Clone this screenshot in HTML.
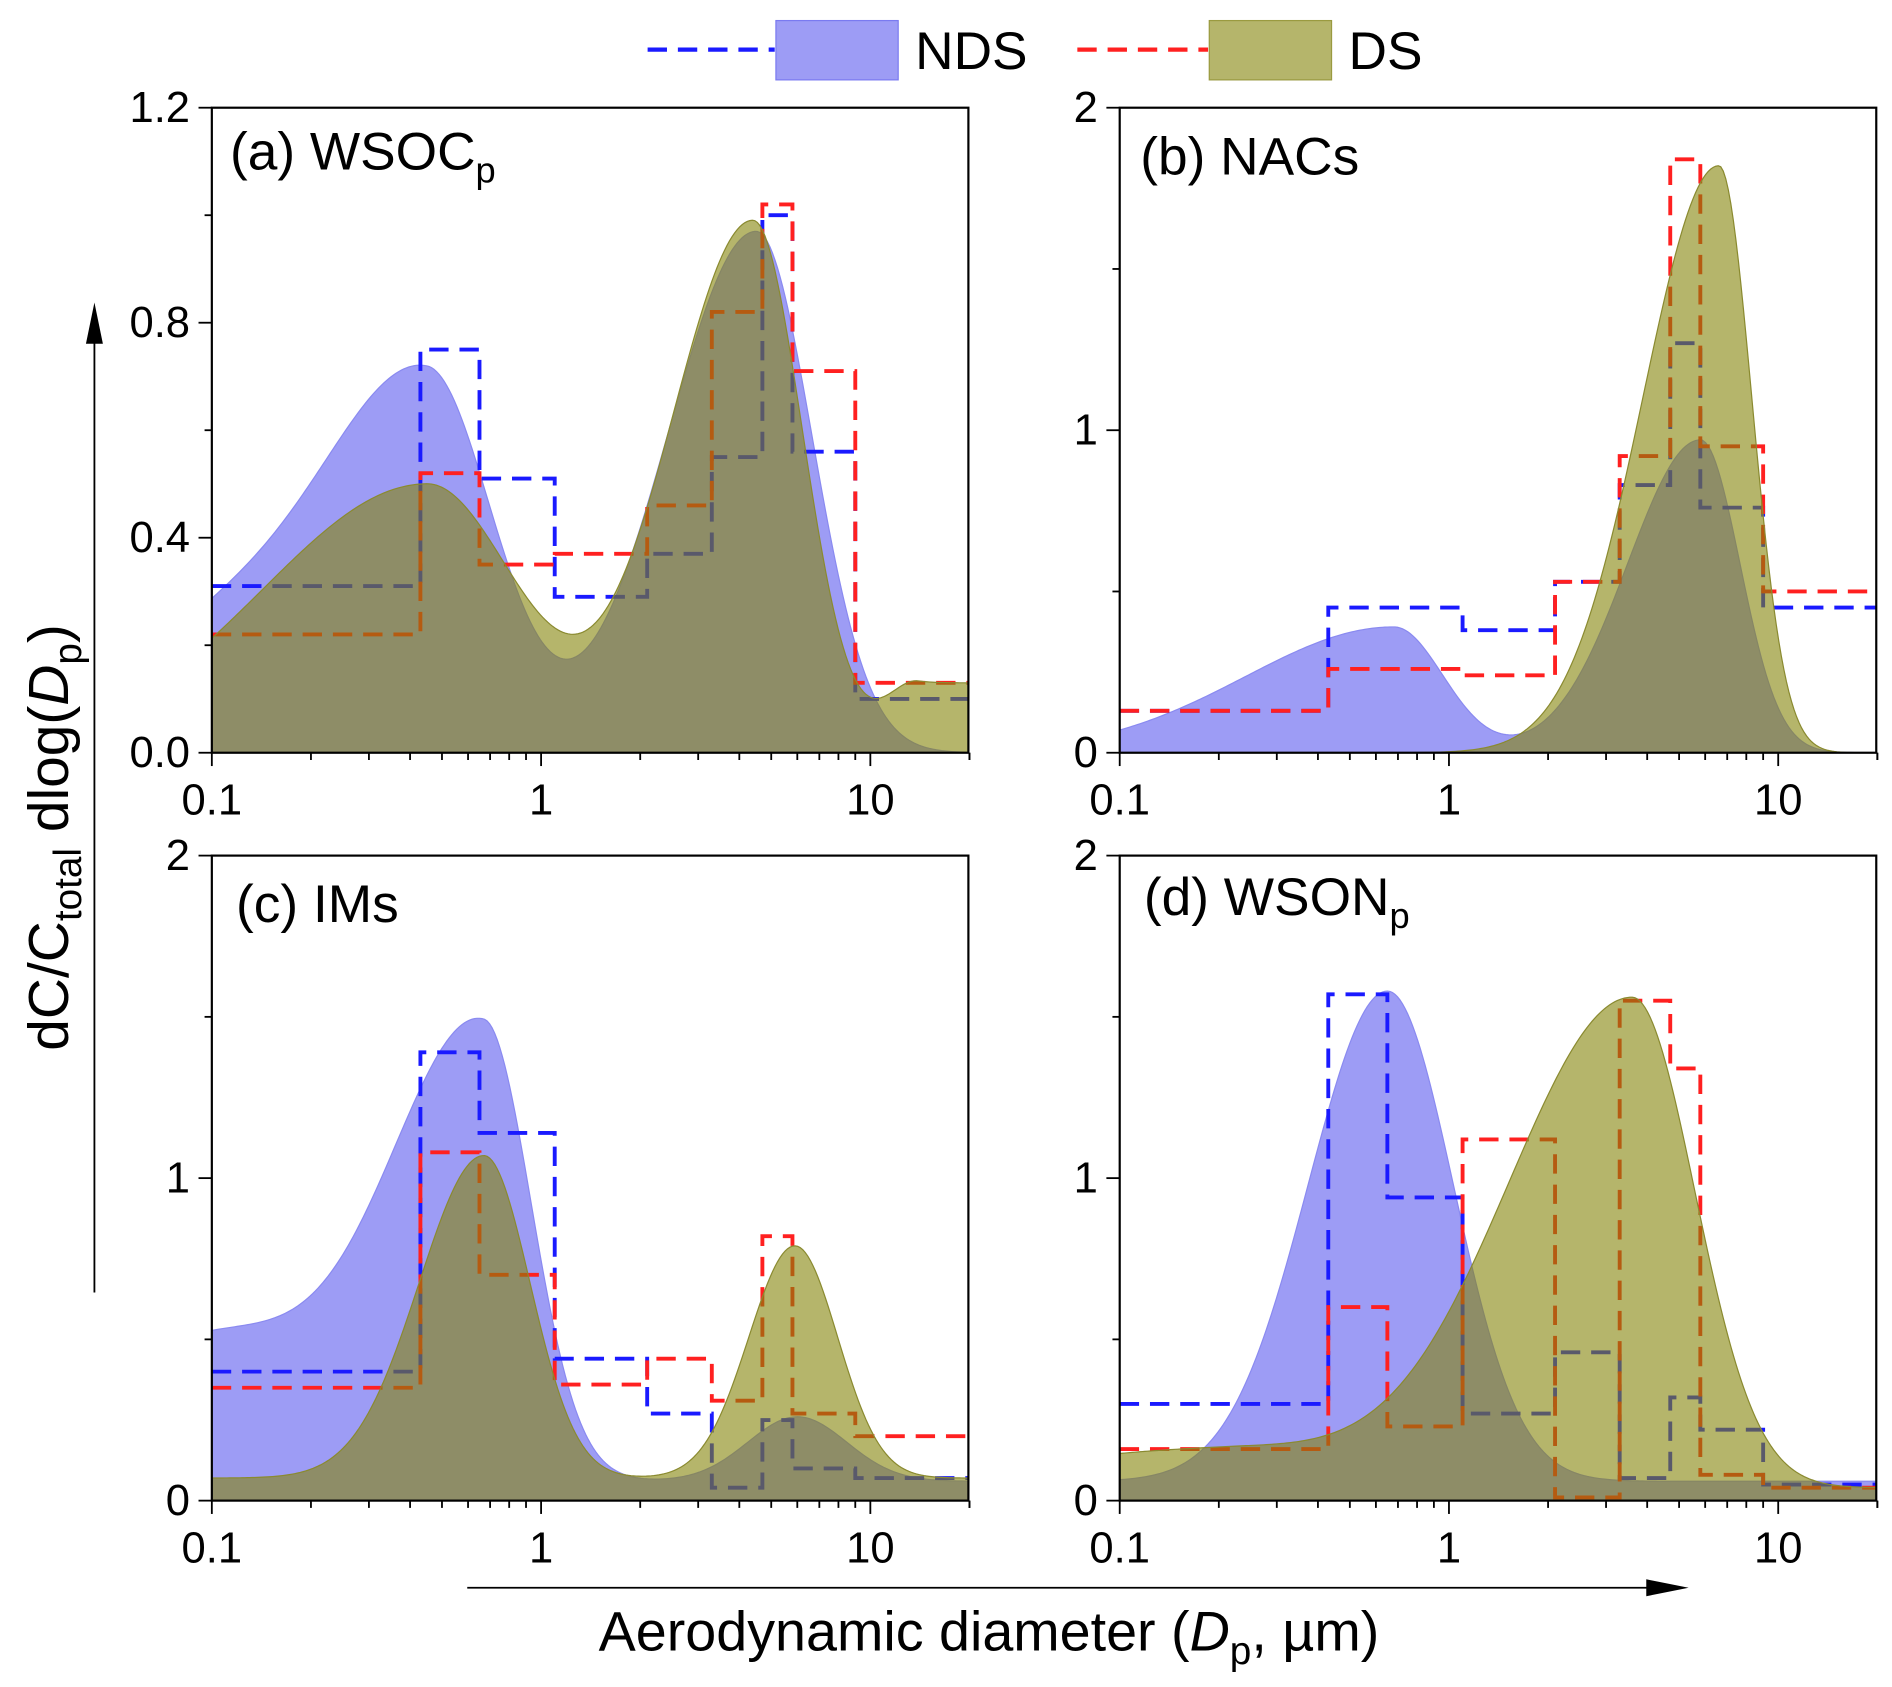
<!DOCTYPE html>
<html><head><meta charset="utf-8">
<style>
html,body{margin:0;padding:0;background:#fff;}
svg{display:block;font-family:"Liberation Sans",Arial,sans-serif;}
</style></head>
<body>
<svg id="fig" width="1892" height="1687" viewBox="0 0 1563 1394" preserveAspectRatio="none" xmlns="http://www.w3.org/2000/svg">
<g id="legend">
  <line x1="535" y1="41" x2="640" y2="41" stroke="#1a1aff" stroke-width="3.5" stroke-dasharray="16,9"/>
  <rect x="641" y="17" width="101" height="49" fill="#9d9cf5" stroke="#7a7af0" stroke-width="1"/>
  <text x="756" y="57" font-size="44">NDS</text>
  <line x1="890" y1="41" x2="998" y2="41" stroke="#ff2020" stroke-width="3.5" stroke-dasharray="16,9"/>
  <rect x="999" y="17" width="101" height="49" fill="#b5b56b" stroke="#9a9a40" stroke-width="1"/>
  <text x="1114" y="57" font-size="44">DS</text>
</g>
<text transform="translate(56,692) rotate(-90)" text-anchor="middle" font-size="47">dC/C<tspan font-size="32" dy="11">total</tspan><tspan dy="-11"> dlog(</tspan><tspan font-style="italic">D</tspan><tspan font-size="32" dy="11">p</tspan><tspan dy="-11">)</tspan></text>
<g>
  <line x1="78" y1="1068" x2="78" y2="270" stroke="#000" stroke-width="1.5"/>
  <polygon points="78,250 71,284 85,284" fill="#000"/>
</g>
<text x="817" y="1364" text-anchor="middle" font-size="46">Aerodynamic diameter (<tspan font-style="italic">D</tspan><tspan font-size="32" dy="11">p</tspan><tspan dy="-11">, µm)</tspan></text>
<g>
  <line x1="386" y1="1312" x2="1370" y2="1312" stroke="#000" stroke-width="1.5"/>
  <polygon points="1395,1312 1360,1305 1360,1319" fill="#000"/>
</g>
</svg>
<script>
// ---- data ----
const binEdges = [0.1, 0.43, 0.65, 1.1, 2.1, 3.3, 4.7, 5.8, 9.0, 20];
const aNdsSteps = [0.31, 0.75, 0.51, 0.29, 0.37, 0.55, 1.00, 0.56, 0.10];
const aDsSteps  = [0.22, 0.52, 0.35, 0.37, 0.46, 0.82, 1.02, 0.71, 0.13];
const bNdsSteps = [0.13, 0.45, 0.45, 0.38, 0.53, 0.83, 1.27, 0.76, 0.45];
const bDsSteps  = [0.13, 0.26, 0.26, 0.24, 0.53, 0.92, 1.84, 0.95, 0.50];
const cNdsSteps = [0.40, 1.39, 1.14, 0.44, 0.27, 0.04, 0.25, 0.10, 0.07];
const cDsSteps  = [0.35, 1.08, 0.70, 0.36, 0.44, 0.31, 0.82, 0.27, 0.20];
const dNdsSteps = [0.30, 1.57, 0.94, 0.27, 0.46, 0.07, 0.32, 0.22, 0.05];
const dDsSteps  = [0.16, 0.60, 0.23, 1.12, 0.01, 1.55, 1.34, 0.08, 0.04];
// fitted modes: [amplitude, center (µm), sigmaLeft, sigmaRight] (log10 units)
const aNdsModes = [[0.70, 0.45, 0.32, 0.2], [0.2, 0.1, 0.3, 0.3], [0.97, 4.5, 0.27, 0.17]];
const aDsModes  = [[0.5, 0.45, 0.5, 0.27], [0.99, 4.4, 0.25, 0.15], [0.13, 14, 0.1, 5]];
const bNdsModes = [[0.39, 0.68, 0.45, 0.15], [0.97, 5.8, 0.22, 0.12]];
const bDsModes  = [[1.82, 6.6, 0.23, 0.1]];
const cNdsModes = [[1.38, 0.67, 0.28, 0.144], [0.45, 0.1, 0.4, 0.4], [0.2, 6.0, 0.15, 0.15]];
const cDsModes  = [[1.0, 0.67, 0.196, 0.14], [0.72, 5.9, 0.14, 0.13]];
const dNdsModes = [[1.52, 0.65, 0.24, 0.2]];
const dDsModes  = [[1.52, 3.6, 0.38, 0.19], [0.12, 0.2, 0.6, 0.4]];
const aBase = [0.0, 0.0], bBase = [0.0, 0.0], cBase = [0.06, 0.07], dBase = [0.06, 0.04];
const aYTicks = ["0.0", "0.4", "0.8", "1.2"];
const bYTicks = ["0", "1", "2"];
const xTickLabels = ["0.1", "1", "10"];

const NS = "http://www.w3.org/2000/svg";
const svg = document.getElementById("fig");
function mk(tag, attrs, parent) {
  const e = document.createElementNS(NS, tag);
  for (const k in attrs) e.setAttribute(k, attrs[k]);
  (parent || svg).appendChild(e);
  return e;
}
function modeVal(modes, base, x) {
  let v = base;
  const lx = Math.log10(x);
  modes.forEach(m => {
    const d = lx - Math.log10(m[1]);
    const s = d < 0 ? m[2] : m[3];
    v += m[0] * Math.exp(-d * d / (2 * s * s));
  });
  return v;
}

function panel(cfg) {
  const g = mk("g", {});
  
  
  const L = cfg.x0, R = cfg.x0 + 625, T = cfg.y0, B = cfg.y0 + 533;
  const xs = v => L + 272 * Math.log10(v / 0.1);
  const ys = v => B - (v / cfg.ymax) * (B - T);
  const cid = "clip" + cfg.id;
  const cp = mk("clipPath", {id: cid}, g);
  mk("rect", {x: L, y: T, width: R - L, height: B - T}, cp);
  const plot = mk("g", {"clip-path": "url(#" + cid + ")"}, g);

  function curvePath(modes, base) {
    let d = "M" + xs(0.1) + "," + ys(0);
    for (let i = 0; i <= 300; i++) {
      const x = 0.1 * Math.pow(200, i / 300);
      d += " L" + xs(x).toFixed(2) + "," + ys(modeVal(modes, base, x)).toFixed(2);
    }
    d += " L" + xs(20) + "," + ys(0) + " Z";
    return d;
  }
  function stepPath(vals) {
    let d = "";
    vals.forEach((v, i) => {
      const x1 = xs(binEdges[i]), x2 = xs(binEdges[i + 1]), y = ys(v);
      d += (i === 0 ? "M" + x1 + "," + y : " L" + x1 + "," + y) + " L" + x2 + "," + y;
    });
    return d;
  }
  const nf = mk("path", {d: curvePath(cfg.ndsModes, cfg.base[0]), fill: "#9d9cf5", stroke: "#8a8af0", "stroke-width": 1}, plot);
  
  
  const nl = mk("path", {d: stepPath(cfg.ndsSteps), fill: "none", stroke: "#1a1aff", "stroke-width": 3.2, "stroke-dasharray": "16,9"}, plot);
  
  
  const dl = mk("path", {d: stepPath(cfg.dsSteps), fill: "none", stroke: "#ff2020", "stroke-width": 3.2, "stroke-dasharray": "16,9"}, plot);
  
  
  const df = mk("path", {d: curvePath(cfg.dsModes, cfg.base[1]), fill: "rgb(132,132,8)", "fill-opacity": 0.6, stroke: "#8a8a30", "stroke-width": 1}, plot);
  
  

  mk("rect", {x: L, y: T, width: R - L, height: B - T, fill: "none", stroke: "#000", "stroke-width": 1.8}, g);
  for (let dec = 0.1; dec < 20; dec *= 10) {
    for (let k = 1; k <= 9; k++) {
      const v = dec * k;
      if (v > 20.001) break;
      const x = xs(v);
      mk("line", {x1: x, y1: B, x2: x, y2: B + (k === 1 ? 11 : 6), stroke: "#000", "stroke-width": 1.5}, g);
    }
  }
  mk("line", {x1: xs(20), y1: B, x2: xs(20), y2: B + 6, stroke: "#000", "stroke-width": 1.5}, g);
  xTickLabels.forEach((t, i) => {
    const tx = mk("text", {x: xs(0.1 * Math.pow(10, i)), y: B + 51, "text-anchor": "middle", "font-size": 36}, g);
    
    
    tx.textContent = t;
  });
  const n = cfg.yTicks.length - 1;
  for (let i = 0; i <= n * 2; i++) {
    const v = cfg.ymax * i / (n * 2);
    mk("line", {x1: L, y1: ys(v), x2: L - (i % 2 === 0 ? 11 : 6), y2: ys(v), stroke: "#000", "stroke-width": 1.5}, g);
  }
  cfg.yTicks.forEach((t, i) => {
    const ty = mk("text", {x: L - 18, y: ys(cfg.ymax * i / n) + 12, "text-anchor": "end", "font-size": 36}, g);
    
    
    ty.textContent = t;
  });
  const tt = mk("text", {x: cfg.tx, y: cfg.ty, "font-size": 44}, g);
  
  
  tt.textContent = cfg.title;
  if (cfg.sub) {
    const s = mk("tspan", {"font-size": 30, dy: 11}, tt);
    s.textContent = cfg.sub;
  }
}

panel({id: "a", name: "panel-a-wsoc", x0: 175, y0: 89, ymax: 1.2, yTicks: aYTicks, ndsSteps: aNdsSteps, dsSteps: aDsSteps, ndsModes: aNdsModes, dsModes: aDsModes, base: aBase, title: "(a) WSOC", sub: "p", tx: 190, ty: 140});
panel({id: "b", name: "panel-b-nacs", x0: 925, y0: 89, ymax: 2, yTicks: bYTicks, ndsSteps: bNdsSteps, dsSteps: bDsSteps, ndsModes: bNdsModes, dsModes: bDsModes, base: bBase, title: "(b) NACs", sub: "", tx: 942, ty: 144});
panel({id: "c", name: "panel-c-ims", x0: 175, y0: 707, ymax: 2, yTicks: bYTicks, ndsSteps: cNdsSteps, dsSteps: cDsSteps, ndsModes: cNdsModes, dsModes: cDsModes, base: cBase, title: "(c) IMs", sub: "", tx: 195, ty: 762});
panel({id: "d", name: "panel-d-wson", x0: 925, y0: 707, ymax: 2, yTicks: bYTicks, ndsSteps: dNdsSteps, dsSteps: dDsSteps, ndsModes: dNdsModes, dsModes: dDsModes, base: dBase, title: "(d) WSON", sub: "p", tx: 945, ty: 756});
</script>
</body></html>
